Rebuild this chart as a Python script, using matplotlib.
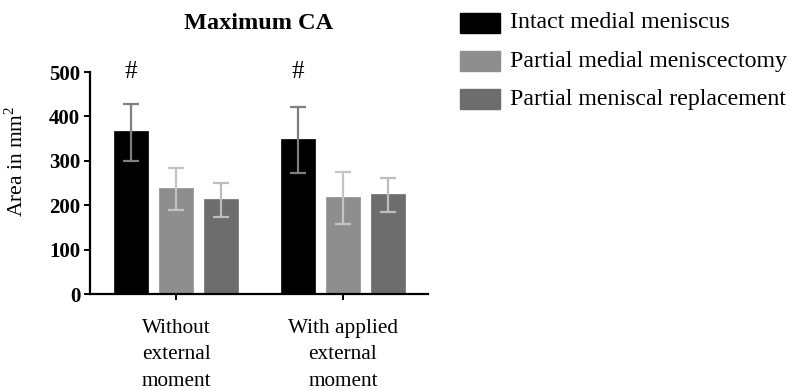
import matplotlib.pyplot as plt
import matplotlib.patches as patches
import numpy as np

plt.rcParams['font.family'] = 'serif'
plt.rcParams['font.serif'] = ['Liberation Serif', 'DejaVu Serif']

# Data
groups = ['Without\nexternal\nmoment', 'With applied\nexternal\nmoment']
series = ['Intact medial meniscus', 'Partial medial meniscectomy',
          'Partial meniscal replacement']
means = [[368, 350], [238, 219], [214, 226]]
err_low = [[68, 77], [49, 61], [41, 41]]
err_high = [[61, 72], [45, 56], [35, 36]]
significant = ['#', '#']

bar_colors = ['#000000', '#8e8e8e', '#6d6d6d']
err_colors = ['#7f7f7f', '#c4c4c4', '#bdbdbd']

fig = plt.figure(figsize=(8, 3.91), dpi=100)
ax = fig.add_axes([90 / 800, 1 - 294 / 391, 338 / 800, 222 / 391])

x = np.arange(len(groups))
offsets = [-0.27, 0.0, 0.27]
width = 0.2

for i, name in enumerate(series):
    ax.bar(x + offsets[i], means[i], width, color=bar_colors[i],
           edgecolor=bar_colors[i], linewidth=0.5, zorder=2)
    ax.errorbar(x + offsets[i], means[i], yerr=[err_low[i], err_high[i]],
                fmt='none', ecolor=err_colors[i], elinewidth=1.6,
                capsize=6, capthick=1.6, zorder=3)

# significance markers above the intact bars
for xi, mark in zip(x + offsets[0], significant):
    ax.text(xi, 500, mark, ha='center', va='center', fontsize=18, clip_on=False)

ax.set_xlim(-0.515, 1.509)
ax.set_ylim(0, 500)
ax.set_yticks([0, 100, 200, 300, 400, 500])
ax.set_xticks(x)
ax.set_xticklabels(groups, fontsize=15.3, linespacing=1.53)
for lab in ax.get_yticklabels():
    lab.set_fontweight('bold')
    lab.set_fontsize(15)

for s in ['top', 'right']:
    ax.spines[s].set_visible(False)
for s in ['left', 'bottom']:
    ax.spines[s].set_linewidth(1.6)
ax.tick_params(axis='both', width=1.4, length=4, direction='out', pad=3)
ax.tick_params(axis='x', pad=14)

ax.set_ylabel('Area in mm$^\\mathregular{2}$', fontsize=15.5)
ax.yaxis.set_label_coords(-0.183, 0.6)
ax.set_title('Maximum CA', fontsize=17.5, fontweight='bold', pad=31)

# legend drawn at the right side of the figure
for i, name in enumerate(series):
    yc = 1 - (23 + 38 * i) / 391
    fig.patches.append(patches.Rectangle((460 / 800, yc - 10 / 391), 40 / 800, 20 / 391,
                                         transform=fig.transFigure, facecolor=bar_colors[i],
                                         edgecolor=bar_colors[i], figure=fig))
    fig.text(510 / 800, yc, name, fontsize=17.2, va='center', ha='left')

fig.savefig('out.png', dpi=100)
